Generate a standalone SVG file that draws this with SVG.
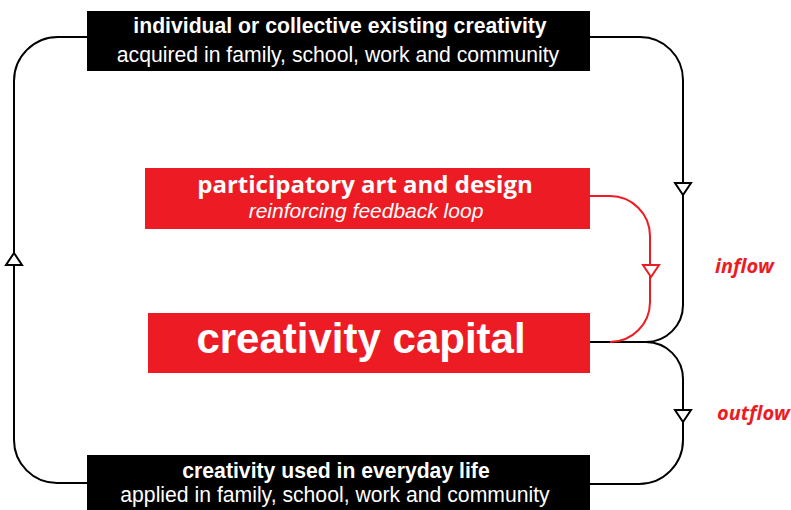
<svg xmlns="http://www.w3.org/2000/svg" width="791" height="510" viewBox="0 0 791 510">
<style>
.blk{fill:#000}
.red{fill:#ED1C24}
.line{fill:none;stroke:#000;stroke-width:2}
.rline{fill:none;stroke:#ED1C24;stroke-width:2}
.tri{fill:#fff;stroke:#000;stroke-width:2;stroke-linejoin:miter}
.rtri{fill:#fff;stroke:#ED1C24;stroke-width:2}
.hb{font-family:"Liberation Sans",Arial,sans-serif;font-weight:bold;fill:#fff;text-anchor:middle}
.hr{font-family:"Liberation Sans",Arial,sans-serif;fill:#fff;text-anchor:middle}
.lab{font-family:"Open Sans",sans-serif;font-weight:bold;font-style:italic;fill:#ED1C24;font-size:20px}
</style>
<defs>
<polygon id="down" points="-8,-6 8,-6 0,6"/>
</defs>
<g id="connectors">
<path class="line" d="M87,37 H58 A44,44 0 0 0 14,81 V440 A43,43 0 0 0 57,483 H87"/>
<path class="line" d="M590,37 H640 A43,43 0 0 1 683,80 V305 A37,37 0 0 1 646,342 H590"/>
<path class="line" d="M646,342 A37,37 0 0 1 683,379 V440 A44,44 0 0 1 639,484 H590"/>
<path class="rline" d="M590,196 H610 A40,40 0 0 1 650,236 V302 A40,40 0 0 1 610,342"/>
<use href="#down" class="tri" transform="translate(14,259) rotate(180)"/>
<use href="#down" class="tri" transform="translate(683,189)"/>
<use href="#down" class="tri" transform="translate(683,416)"/>
<use href="#down" class="rtri" transform="translate(651,271)"/>
</g>
<g id="node-existing">
<rect class="blk" x="87" y="11" width="503" height="60"/>
<text class="hb" x="340" y="33" font-size="21.2">individual or collective existing creativity</text>
<text class="hr" x="338" y="62" font-size="21.2">acquired in family, school, work and community</text>
</g>
<g id="node-participatory">
<rect class="red" x="145" y="168" width="445" height="61"/>
<text x="365" y="193" font-family="'Open Sans',sans-serif" font-weight="bold" font-size="24" fill="#fff" text-anchor="middle">participatory art and design</text>
<text x="366" y="218" font-family="'Liberation Sans',Arial,sans-serif" font-style="italic" font-size="21" fill="#fff" text-anchor="middle">reinforcing feedback loop</text>
</g>
<g id="node-capital">
<rect class="red" x="148" y="313" width="442" height="60"/>
<text class="hb" x="361" y="353" font-size="42">creativity capital</text>
</g>
<g id="node-used">
<rect class="blk" x="87" y="455" width="503" height="60"/>
<text class="hb" x="336" y="478" font-size="21.2">creativity used in everyday life</text>
<text class="hr" x="335" y="502" font-size="21.2">applied in family, school, work and community</text>
</g>
<g id="labels">
<text class="lab" x="715" y="273">inflow</text>
<text class="lab" x="717" y="420">outflow</text>
</g>
</svg>
